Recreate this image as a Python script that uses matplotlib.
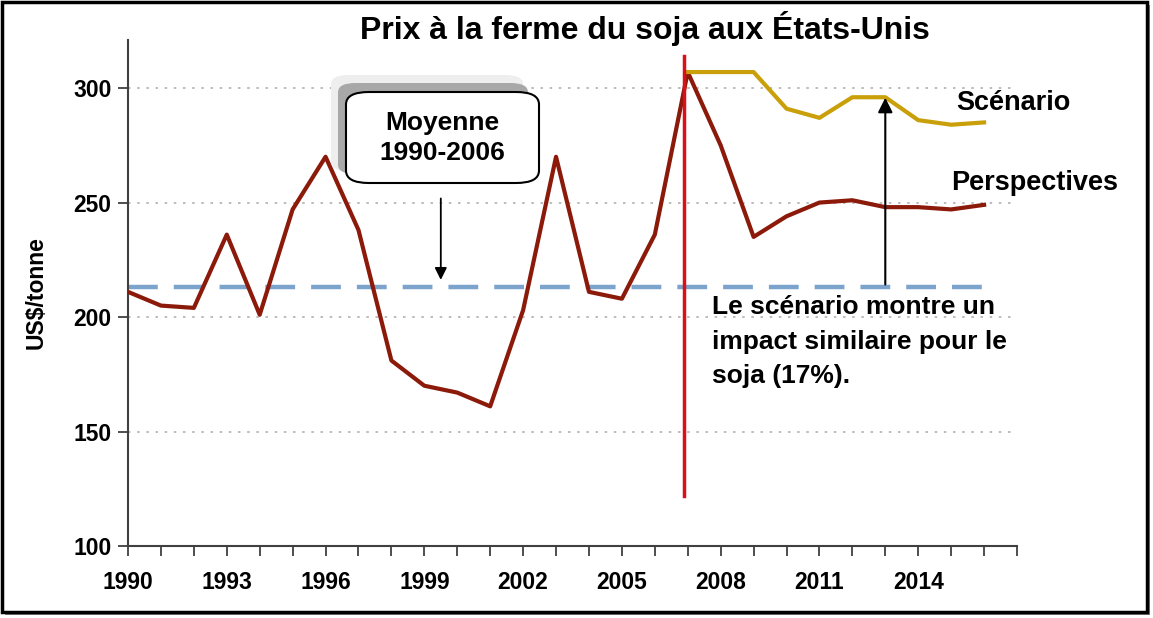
import matplotlib
matplotlib.use("Agg")
import matplotlib.pyplot as plt
from matplotlib.patches import FancyBboxPatch, Rectangle
import numpy as np

plt.rcParams['font.family'] = ['Liberation Sans', 'DejaVu Sans']

# données
years = list(range(1990, 2017))
perspectives = [211, 205, 204, 236, 201, 247, 270, 238, 181, 170, 167, 161, 203, 270,
                211, 208, 236, 307, 275, 235, 244, 250, 251, 248, 248, 247, 249]
scen_years = list(range(2007, 2017))
scenario = [307, 307, 307, 291, 287, 296, 296, 286, 284, 285]
moyenne = 213
tick_years = list(range(1990, 2018))
label_years = list(range(1990, 2017, 3))

W, H = 1153, 618
fig = plt.figure(figsize=(W / 100, H / 100), dpi=100)

def fx(px):
    return px / W

def fy(py):
    return 1 - py / H

# cadre avec ombre
fig.patches.append(Rectangle((fx(5), fy(615)), fx(1145), 610 / H, transform=fig.transFigure,
                             facecolor='#808080', edgecolor='none', zorder=0))
fig.patches.append(Rectangle((fx(2), fy(612)), fx(1145), 610 / H, transform=fig.transFigure,
                             facecolor='white', edgecolor='black', linewidth=2.5, zorder=0.5))

ax = fig.add_axes([fx(128), fy(546), fx(1017 - 128), (546 - 40) / H])
ax.set_zorder(1)
ax.set_facecolor('none')

ax.plot(years, perspectives, color='#8B1A0A', lw=3, zorder=3)
ax.plot(scen_years, scenario, color='#C9A009', lw=3, zorder=3)
ax.axhline(moyenne, xmin=0, xmax=(2016 - 1990) / 27, color='#7BA3CC', lw=3.2,
           dashes=(6.7, 3.6), zorder=2)
ax.plot([2006.9, 2006.9], [122, 314], color='#D9101A', lw=2.5, zorder=4, clip_on=False)

ax.set_xlim(1990, 2017)
ax.set_ylim(100, 321)
ax.set_xticks(tick_years)
ax.set_xticklabels([str(y) if y in label_years else '' for y in tick_years])
ax.set_yticks([100, 150, 200, 250, 300])
for y in [150, 200, 250, 300]:
    ax.axhline(y, color='#b0b0b0', lw=1.2, ls=(0, (1.5, 4)), zorder=1)

for s in ['top', 'right']:
    ax.spines[s].set_visible(False)
for s in ['left', 'bottom']:
    ax.spines[s].set_color('#404040')
    ax.spines[s].set_linewidth(1.5)
ax.tick_params(axis='both', direction='out', length=7, width=1.3, color='#404040',
               labelsize=16.5)
ax.tick_params(axis='x', pad=11)
ax.tick_params(axis='y', pad=5)
for lab in ax.get_xticklabels() + ax.get_yticklabels():
    lab.set_fontweight('bold')

ax.set_ylabel('US$/tonne', fontsize=16.5, fontweight='bold', labelpad=18)

fig.text(fx(645), fy(28), 'Prix à la ferme du soja aux États-Unis', ha='center', va='center',
         fontsize=23, fontweight='bold')

# encadré moyenne
fig.patches.append(FancyBboxPatch((fx(331), fy(171)), fx(192), (171 - 75) / H,
                                  boxstyle='round,pad=0,rounding_size=0.015',
                                  transform=fig.transFigure, facecolor='#eeeeee',
                                  edgecolor='none', zorder=5))
fig.patches.append(FancyBboxPatch((fx(338), fy(174)), fx(190), (174 - 83) / H,
                                  boxstyle='round,pad=0,rounding_size=0.015',
                                  transform=fig.transFigure, facecolor='#a8a8a8',
                                  edgecolor='none', zorder=5.5))
fig.patches.append(FancyBboxPatch((fx(346), fy(183)), fx(193), (183 - 92) / H,
                                  boxstyle='round,pad=0,rounding_size=0.02',
                                  transform=fig.transFigure, facecolor='white',
                                  edgecolor='black', linewidth=1.5, zorder=6))
fig.text(fx(442), fy(138), 'Moyenne\n1990-2006', ha='center', va='center', fontsize=19,
         fontweight='bold', linespacing=1.35, zorder=7)

ax.annotate('', xy=(1999.5, 215), xytext=(1999.5, 253),
            arrowprops=dict(arrowstyle='-|>', color='black', lw=1.3, mutation_scale=18), zorder=6)
ax.annotate('', xy=(2013, 297), xytext=(2013, 213),
            arrowprops=dict(arrowstyle='-|>', color='black', lw=1.5, mutation_scale=22), zorder=6)

ax.text(2007.73, 209.5, 'Le scénario montre un\nimpact similaire pour le\nsoja (17%).', ha='left',
        va='top', fontsize=19, fontweight='bold', linespacing=1.55, zorder=6)
ax.text(2016.9, 293.5, 'Scénario', ha='center', va='center', fontsize=19.5,
        fontweight='bold', clip_on=False)
ax.text(2017.54, 258.5, 'Perspectives', ha='center', va='center', fontsize=19.5,
        fontweight='bold', clip_on=False)

fig.savefig('out.png', dpi=100)
